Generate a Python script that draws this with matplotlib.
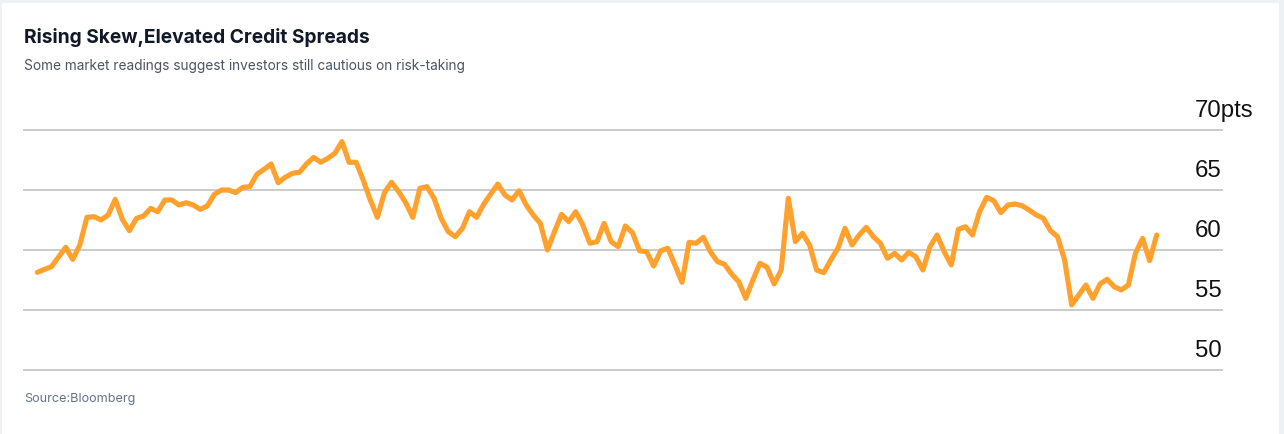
import matplotlib
matplotlib.use("Agg")
import matplotlib.pyplot as plt
from matplotlib.patches import Rectangle

# ---- data ----
title = "Rising Skew,Elevated Credit Spreads"
subtitle = "Some market readings suggest investors still cautious on risk-taking"
source = "Source:Bloomberg"
y_ticks = [50, 55, 60, 65, 70]
y_tick_labels = ["50", "55", "60", "65", "70"]
y_unit = "pts"
values = [
    58.14, 58.38, 58.61, 59.42, 60.22, 59.22, 60.42, 62.72, 62.78, 62.50,
    62.92, 64.22, 62.56, 61.61, 62.64, 62.83, 63.47, 63.19, 64.17, 64.17,
    63.75, 63.94, 63.75, 63.39, 63.67, 64.64, 65.00, 65.00, 64.78, 65.22,
    65.28, 66.31, 66.72, 67.17, 65.61, 66.06, 66.39, 66.47, 67.17, 67.72,
    67.31, 67.64, 68.06, 69.03, 67.31, 67.31, 65.83, 64.17, 62.72, 64.78,
    65.64, 64.86, 63.94, 62.72, 65.14, 65.28, 64.31, 62.64, 61.53, 61.11,
    61.81, 63.19, 62.72, 63.81, 64.67, 65.50, 64.58, 64.17, 64.94, 63.75,
    62.92, 62.22, 60.00, 61.53, 62.97, 62.36, 63.19, 62.08, 60.56, 60.69,
    62.22, 60.69, 60.28, 62.00, 61.44, 59.94, 59.86, 58.67, 59.94, 60.14,
    58.75, 57.31, 60.64, 60.56, 61.06, 59.86, 59.03, 58.81, 58.00, 57.36,
    55.97, 57.50, 58.89, 58.56, 57.17, 58.33, 64.31, 60.69, 61.39, 60.42,
    58.33, 58.11, 59.17, 60.14, 61.81, 60.42, 61.25, 61.89, 61.11, 60.56,
    59.31, 59.72, 59.17, 59.81, 59.44, 58.33, 60.28, 61.25, 59.86, 58.75,
    61.72, 61.94, 61.25, 63.20, 64.39, 64.11, 63.11, 63.75, 63.83, 63.69,
    63.33, 62.92, 62.64, 61.61, 61.11, 59.17, 55.42, 56.25, 57.08, 55.97,
    57.17, 57.56, 56.94, 56.67, 57.08, 59.72, 60.97, 59.11, 61.25,
]
x = list(range(len(values)))

# ---- figure ----
W, H = 1284, 434
fig = plt.figure(figsize=(W / 100, H / 100), dpi=100)
fig.patch.set_facecolor("#eef1f4")
fig.add_artist(Rectangle((2 / W, 0), (W - 7) / W, (H - 3) / H, transform=fig.transFigure,
                         facecolor="white", edgecolor="none", zorder=0))

# axes spanning gridline extent: x 24..1222 px, y 130..370 px
ax = fig.add_axes([24 / W, (H - 370) / H, (1222 - 24) / W, 240 / H])
ax.set_facecolor("none")
step = 7.085
ax.set_xlim(-(37.3 - 24) / step, len(values) - 1 + (1222 - 1156.7) / step)
ax.set_ylim(50, 70)
for s in ax.spines.values():
    s.set_visible(False)
ax.set_xticks([])
ax.set_yticks([])

for t in y_ticks:
    ax.axhline(t, color="#cbcbcb", lw=1.4, clip_on=False, zorder=1)

ax.plot(x, values, color="#ffa12c", lw=3.7, solid_joinstyle="round",
        solid_capstyle="round", zorder=3, clip_on=False)

label_font = dict(family=["Liberation Sans", "DejaVu Sans"], size=17.3, color="#111111")
last = None
for t, lab in zip(y_ticks, y_tick_labels):
    last = ax.annotate(lab, xy=(1.0, t), xycoords=("axes fraction", "data"),
                       xytext=(0, 13), textcoords="offset pixels",
                       ha="right", va="baseline", annotation_clip=False, **label_font)

# top label: number right-aligned with the others, unit directly attached
fig.canvas.draw()
wpx = last.get_window_extent(fig.canvas.get_renderer()).width
last.remove()
ax.annotate(y_tick_labels[-1] + y_unit, xy=(1.0, y_ticks[-1]),
            xycoords=("axes fraction", "data"),
            xytext=(-wpx, 13), textcoords="offset pixels",
            ha="left", va="baseline", annotation_clip=False, **label_font)

fig.text(24 / W, 1 - 43 / H, title, family=["Inter", "DejaVu Sans"], weight="bold",
         size=13.8, color="#111827", ha="left", va="baseline")
fig.text(24 / W, 1 - 70 / H, subtitle, family=["Inter", "DejaVu Sans"],
         size=9.85, color="#4b5563", ha="left", va="baseline")
fig.text(24 / W, 1 - 402 / H, source, family=["Inter", "DejaVu Sans"],
         size=9.1, color="#64748b", ha="left", va="baseline")

fig.savefig("out.png", dpi=100, facecolor=fig.get_facecolor())
